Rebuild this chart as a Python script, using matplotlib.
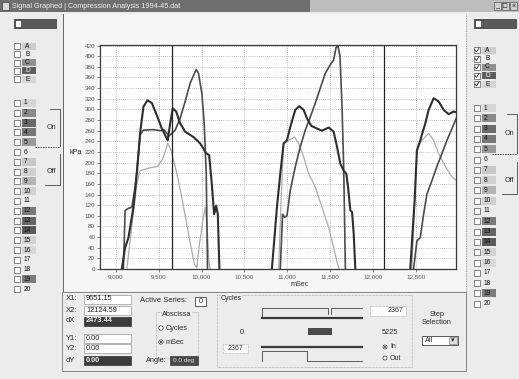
import numpy as np
import matplotlib
matplotlib.use("Agg")
import matplotlib.pyplot as plt
from matplotlib.patches import Rectangle, Circle

plt.rcParams["font.family"] = ["Liberation Sans", "DejaVu Sans"]

W, H = 519, 379
nan = np.nan

# pressure traces (kPa against mSec), the cycles are split by nan
a_ms = [9069, 9108, 9147, 9205, 9245, 9283, 9322, 9368, 9420, 9478, 9537, 9595, 9606,
        9635, 9665, 9704, 9750, 9809, 9906, 9984, 10035, 10050, 10089, 10120, 10147,
        10170, 10190, 10209,
        nan,
        10821, 10880, 10919, 10958, 10997, 11036, 11094, 11141, 11192, 11231, 11281,
        11347, 11406, 11484, 11542, 11581, 11620, 11659, 11690, 11710, 11737, 11757,
        11776, 11795,
        nan,
        12436, 12487, 12514, 12553, 12612, 12651, 12709, 12767, 12826, 12884, 12942, 13001]
a_kpa = [0, 40, 59, 116, 179, 255, 305, 317, 312, 289, 264, 245, 242,
         275, 302, 296, 274, 258, 248, 236, 223, 218, 214, 160, 103,
         119, 103, 0,
         nan,
         0, 116, 179, 236, 242, 267, 299, 306, 299, 283, 269,
         264, 260, 266, 258, 230, 198, 185, 179, 154, 110, 107,
         66, 0,
         nan,
         0, 129, 223, 242, 274, 299, 321, 315, 299, 291, 296, 293]

b_ms = [9088, 9108, 9147, 9186, 9225, 9264, 9283, 9322, 9439, 9516, 9560, 9595, 9620,
        9692, 9750, 9809, 9867, 9937, 9964, 10004, 10031, 10055, 10070,
        nan,
        10919, 10946, 10969, 10997, 11036, 11094, 11153, 11211, 11270, 11328, 11386,
        11445, 11503, 11542, 11570, 11593, 11616, 11640, 11659, 11679,
        nan,
        12475, 12514, 12553, 12592, 12631, 12689, 12748, 12806, 12865, 12923, 12981, 13020]
b_kpa = [0, 110, 114, 116, 154, 217, 252, 261, 262, 260, 262, 255, 250,
         261, 283, 315, 349, 375, 368, 330, 274, 179, 0,
         nan,
         0, 103, 97, 100, 148, 192, 230, 261, 286, 312, 340,
         368, 384, 393, 416, 419, 400, 305, 192, 0,
         nan,
         0, 53, 59, 103, 141, 166, 193, 217, 242, 264, 286, 299]

c_ms = [9128, 9185, 9245, 9283, 9392, 9490, 9548, 9606, 9645, 9704, 9762, 9820, 9879,
        9918, 9945, 9976, 10015, 10042, 10066, 10085, 10100,
        nan,
        10899, 10938, 10958, 11016, 11086, 11133, 11192, 11250, 11328, 11406, 11484,
        11542, 11581, 11608,
        nan,
        12455, 12514, 12572, 12651, 12709, 12767, 12845, 12923, 13001]
c_kpa = [0, 78, 160, 185, 190, 193, 207, 236, 223, 185, 141, 91, 40,
         9, 2, 47, 91, 116, 78, 16, 0,
         nan,
         0, 166, 236, 242, 248, 236, 211, 179, 154, 116, 78,
         40, 13, 0,
         nan,
         0, 223, 242, 255, 242, 217, 193, 173, 163]

x_ticks = [9000, 9500, 10000, 10500, 11000, 11500, 12000, 12500]
x_labels = ["9,000", "9,500", "10,000", "10,500", "11,000", "11,500", "12,000", "12,500"]
y_ticks = list(range(0, 421, 20))

x1_val, x2_val = 9651.15, 12124.59
dx_val = x2_val - x1_val

letters = ["A", "B", "C", "D", "E"]
letter_shades = ["#cdcdcd", None, "#8f8f8f", "#5e5e5e", "#d5d5d5"]
numbers = [str(i) for i in range(1, 21)]
number_shades = ["#d5d5d5", "#8a8a8a", "#6a6a6a", "#777777", "#9a9a9a",
                 None, "#c8c8c8", "#d0d0d0", "#b5b5b5", "#d0d0d0",
                 None, "#7a7a7a", "#666666", "#5a5a5a", "#d2d2d2",
                 "#d8d8d8", None, None, "#7c7c7c", None]

fig = plt.figure(figsize=(W / 100, H / 100), dpi=100)
fig.patch.set_facecolor("#ececec")

# whole window drawn in pixel coordinates, y going down
ui = fig.add_axes([0, 0, 1, 1])
ui.set_xlim(0, W)
ui.set_ylim(H, 0)
ui.axis("off")


def box(x, y, w, h, fc="white", ec="#777777", lw=0.6, ls="-", z=1):
    ui.add_patch(Rectangle((x, y), w, h, fc=fc, ec=ec, lw=lw, ls=ls, zorder=z))


def txt(x, y, s, size=5.5, color="#2a2a2a", ha="left", **kw):
    ui.text(x, y, s, fontsize=size, color=color, ha=ha, va="center", zorder=5, **kw)


# title bar
box(0, 0, W, 12, fc="#bdbdbd", ec="none")
box(0, 0, 310, 12, fc="#6f6f6f", ec="none")
box(2, 2, 7, 8, fc="#d8d8d8", ec="#444444", lw=0.5)
txt(12, 6, "Signal Graphed | Compression Analysis 1994-45.dat", size=5.2, color="#f0f0f0")
for bx, s in zip([494, 502, 510], ["_", "□", "×"]):
    box(bx, 2, 7, 8, fc="#d0d0d0", ec="#555555", lw=0.5)
    txt(bx + 3.5, 6, s, size=5, ha="center", color="#111111")

# chart panel
box(63, 14, 403, 277, fc="#f6f6f6", ec="none", z=0)
ui.plot([63, 63], [14, 291], color="#666666", lw=0.7)
ui.plot([466, 466], [14, 372], color="#888888", lw=0.6, ls=(0, (1, 1)))


def series_list(x0, y_letters, y_numbers, checked):
    box(x0, 19, 42, 9, fc="#5a5a5a", ec="#333333", lw=0.5)
    box(x0 + 1, 20, 6, 7, fc="white", ec="#333333", lw=0.5, z=2)
    for lab, y, shade in zip(letters, y_letters, letter_shades):
        box(x0, y - 3, 6, 6, fc="white", ec="#555555", lw=0.5)
        if checked:
            ui.plot([x0 + 1, x0 + 2.5, x0 + 5], [y, y + 2, y - 2], color="#222222", lw=0.6)
        if shade:
            box(x0 + 8, y - 3.5, 14, 7, fc=shade, ec="none")
        txt(x0 + 11, y, lab, size=4.8, color="#111111" if shade != "#5e5e5e" else "#eeeeee")
    for lab, y, shade in zip(numbers, y_numbers, number_shades):
        box(x0, y - 3, 6, 6, fc="white", ec="#555555", lw=0.5)
        if shade:
            box(x0 + 8, y - 4, 14, 8, fc=shade, ec="none")
        txt(x0 + 10, y, lab, size=4.8, color="#111111")


left_y_letters = [46 + 8.3 * i for i in range(5)]
left_y_numbers = [103 + 9.8 * i for i in range(20)]
right_y_letters = [50 + 8.5 * i for i in range(5)]
right_y_numbers = [108 + 10.3 * i for i in range(20)]
series_list(14, left_y_letters, left_y_numbers, False)
series_list(474, right_y_letters, right_y_numbers, True)

# On / Off brackets
for xr, xt, ys in [(60, 47, left_y_numbers), (517, 505, right_y_numbers)]:
    ui.plot([xr - 10, xr, xr], [ys[1] - 4, ys[1] - 4, ys[4] + 4], color="#444444", lw=0.6)
    ui.plot([xr - 25, xr], [ys[4] + 5, ys[4] + 5], color="#444444", lw=0.6, ls=(0, (2, 1)))
    ui.plot([xr, xr, xr - 15], [ys[5] + 2, ys[8] + 4, ys[8] + 4], color="#444444", lw=0.6)
    txt(xt, (ys[1] + ys[4]) / 2, "On", size=5.2)
    txt(xt, (ys[6] + ys[8]) / 2, "Off", size=5.2)

# bottom readout panel
box(62, 292, 404, 79, fc="#ececec", ec="#777777", lw=0.6, z=0)
readout_names = ["X1:", "X2:", "dX", "Y1:", "Y2:", "dY"]
readout_vals = [f"{x1_val:.2f}", f"{x2_val:.2f}", f"{dx_val:.2f}", "0.00", "0.00", "0.00"]
readout_y = [299, 310, 321, 338, 348, 360]
for name, val, y in zip(readout_names, readout_vals, readout_y):
    txt(66, y, name, size=5.5)
    dark = name.startswith("d")
    box(84, y - 4.5, 47, 9, fc="#3c3c3c" if dark else "white",
        ec="#333333" if dark else "#999999", lw=0.5)
    txt(86, y, val, size=5.3, color="#f2f2f2" if dark else "#222222",
        fontweight="bold" if dark else "normal")

txt(140, 301, "Active Series:", size=5.5)
box(195, 297, 11, 9, fc="white", ec="#444444", lw=0.6)
txt(200.5, 301.5, "0", size=5.3, ha="center")

box(156, 312, 42, 46, fc="none", ec="#999999", lw=0.5, ls=(0, (1, 1)))
txt(177, 315, "Abscissa", size=5.3, ha="center", bbox=dict(fc="#ececec", ec="none", pad=0.3))
ui.add_patch(Circle((161, 328), 2.2, fc="white", ec="#333333", lw=0.5, zorder=4))
txt(166, 328, "Cycles", size=5.3)
ui.add_patch(Circle((161, 342), 2.2, fc="white", ec="#333333", lw=0.5, zorder=4))
ui.add_patch(Circle((161, 342), 1.0, fc="#222222", ec="none", zorder=4))
txt(166, 342, "mSec", size=5.3)

txt(146, 361, "Angle:", size=5.3)
box(170, 356, 28, 9, fc="#4a4a4a", ec="#333333", lw=0.5)
txt(184, 360.5, "0.0 deg", size=4.6, ha="center", color="#dddddd")

# cycles group
box(217, 295, 195, 72, fc="none", ec="#999999", lw=0.5, ls=(0, (1, 1)))
txt(221, 298, "Cycles", size=5.0, bbox=dict(fc="#ececec", ec="none", pad=0.2))
ui.plot([262, 262, 328, 328], [318, 308, 308, 314], color="#444444", lw=0.6)
ui.plot([331, 331, 362], [314, 308, 308], color="#444444", lw=0.6)
ui.plot([262, 362], [318, 318], color="#3a3a3a", lw=1.6)
box(370, 306, 36, 10, fc="white", ec="#999999", lw=0.5, ls=(0, (1, 1)))
txt(403, 311, "2367", size=5.0, ha="right")
txt(240, 332, "0", size=5.5)
box(308, 328, 24, 7, fc="#4a4a4a", ec="none")
txt(390, 333, "5225", size=5.3, ha="center")
box(223, 344, 25, 9, fc="white", ec="#999999", lw=0.5, ls=(0, (1, 1)))
txt(235.5, 348.5, "2367", size=5.0, ha="center")
ui.plot([262, 362], [347, 347], color="#3a3a3a", lw=1.6)
ui.plot([262, 262, 307, 307, 362], [361, 351, 351, 361, 361], color="#444444", lw=0.6)
ui.add_patch(Circle((385, 347), 2.0, fc="white", ec="#333333", lw=0.5, zorder=4))
ui.add_patch(Circle((385, 347), 0.9, fc="#222222", ec="none", zorder=4))
txt(390, 347, "In", size=5.0)
ui.add_patch(Circle((385, 358), 2.0, fc="white", ec="#333333", lw=0.5, zorder=4))
txt(390, 358, "Out", size=5.0)

txt(437, 315, "Step", size=5.3, ha="center")
txt(437, 323, "Selection", size=5.3, ha="center")
box(422, 336, 36, 9, fc="white", ec="#444444", lw=0.6)
box(449, 337, 8, 7, fc="#dcdcdc", ec="#666666", lw=0.4)
txt(453, 340.5, "▾", size=5, ha="center")
txt(425, 340.5, "All", size=5.2)

txt(70, 152, "kPa", size=5.2)
txt(300, 285, "mSec", size=5.2, ha="center")

# the graph itself
ax = fig.add_axes([100 / W, 1 - 269 / H, 356 / W, 224 / H])
ax.set_facecolor("white")
ax.plot(c_ms, c_kpa, color="#ababab", lw=0.9)
ax.plot(b_ms, b_kpa, color="#4b4b4b", lw=1.2)
ax.plot(a_ms, a_kpa, color="#2e2e2e", lw=1.5)
ax.axvline(x1_val, color="#222222", lw=0.9)
ax.axvline(x2_val, color="#222222", lw=0.9)
ax.set_xlim(8815, 12970)
ax.set_ylim(0, 421)
ax.set_xticks(x_ticks)
ax.set_xticklabels(x_labels)
ax.set_yticks(y_ticks)
ax.grid(True, ls=(0, (1, 2)), color="#8a8a8a", lw=0.5)
ax.tick_params(labelsize=4.5, length=2, width=0.5, pad=1.5, colors="#555555")
for sp in ax.spines.values():
    sp.set_color("#3a3a3a")
    sp.set_linewidth(0.9)

fig.savefig("out.png", dpi=100, facecolor=fig.get_facecolor())
